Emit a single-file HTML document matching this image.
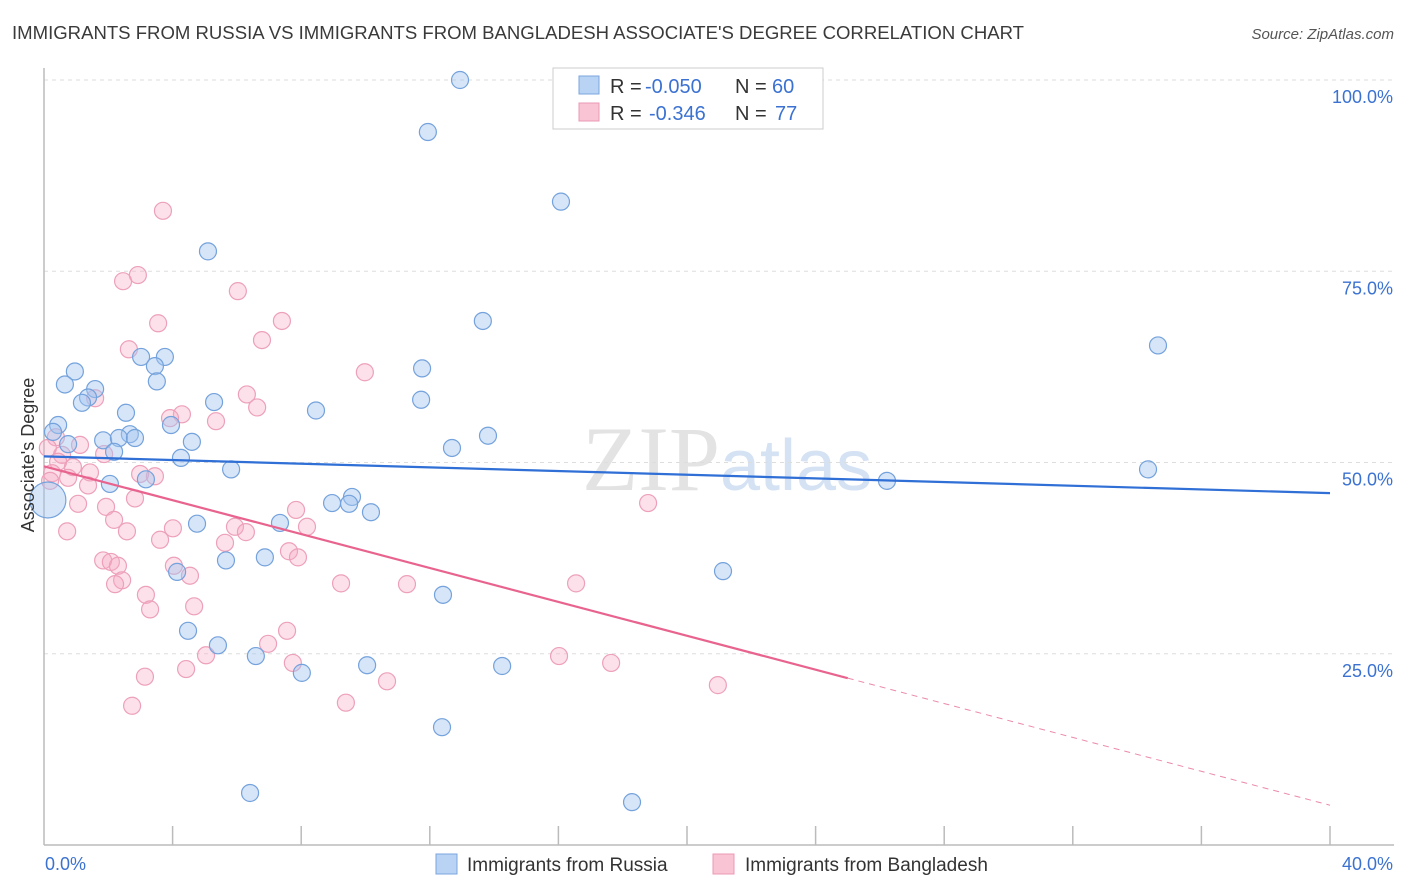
<!DOCTYPE html>
<html><head><meta charset="utf-8"><style>
body{margin:0;background:#fff;font-family:"Liberation Sans",sans-serif;}
svg{display:block}
</style></head><body>
<svg id="chart" width="1406" height="892" xmlns="http://www.w3.org/2000/svg">
<text x="12" y="39" font-size="18" textLength="1012" lengthAdjust="spacingAndGlyphs" fill="#3a3a3a">IMMIGRANTS FROM RUSSIA VS IMMIGRANTS FROM BANGLADESH ASSOCIATE'S DEGREE CORRELATION CHART</text>
<text x="1394" y="39" font-size="15" font-style="italic" fill="#555" text-anchor="end">Source: ZipAtlas.com</text>
<text x="720" y="490" font-size="92" font-family="Liberation Serif,serif" fill="#e3e3e3" text-anchor="end">ZIP</text>
<text x="720" y="490" font-size="72" fill="#d4e2f4">atlas</text>
<g id="grid"></g>
<g id="axes"></g>
<g id="points"></g>
<g id="lines"></g>
<text transform="translate(34,455) rotate(-90)" font-size="18" fill="#333" text-anchor="middle">Associate's Degree</text>
<g>
<rect x="553" y="68" width="270" height="61" fill="#fff" stroke="#ccc"/>
<rect x="579" y="76" width="20" height="18" fill="#b8d3f4" stroke="#7aa6dd"/>
<rect x="579" y="103" width="20" height="18" fill="#f9c4d4" stroke="#eb9ab5"/>
<text x="610" y="93" font-size="20" fill="#333">R =</text>
<text x="645" y="93" font-size="20" fill="#3b72d1">-0.050</text>
<text x="735" y="93" font-size="20" fill="#333">N =</text>
<text x="772" y="93" font-size="20" fill="#3b72d1">60</text>
<text x="610" y="120" font-size="20" fill="#333">R =</text>
<text x="649" y="120" font-size="20" fill="#3b72d1">-0.346</text>
<text x="735" y="120" font-size="20" fill="#333">N =</text>
<text x="775" y="120" font-size="20" fill="#3b72d1">77</text>
</g>
<g>
<rect x="436" y="854" width="21" height="20" fill="#b8d3f4" stroke="#7aa6dd"/>
<text x="467" y="871" font-size="19" fill="#333">Immigrants from Russia</text>
<rect x="713" y="854" width="21" height="20" fill="#f9c4d4" stroke="#eb9ab5"/>
<text x="745" y="871" font-size="19" fill="#333">Immigrants from Bangladesh</text>
</g>
</svg>
<script>
const russiaX=[12.94,11.94,16.08,5.10,13.65,34.65,3.02,3.76,0.96,3.45,11.76,0.65,3.51,1.59,1.37,1.18,5.29,11.73,8.46,2.55,0.44,3.95,0.28,13.81,1.84,2.67,2.33,2.83,4.60,0.75,12.69,2.18,4.26,5.82,34.34,26.22,3.17,2.05,9.58,8.96,9.49,10.17,4.76,7.34,6.87,5.66,21.12,4.14,12.41,4.48,5.41,6.59,10.05,14.25,8.02,12.38,6.41,18.29,0.12];
const russiaY=[100.0,93.2,84.1,77.6,68.5,65.3,63.8,63.8,61.9,62.6,62.3,60.2,60.6,59.6,58.5,57.8,57.9,58.2,56.8,56.5,54.9,54.9,54.0,53.5,52.9,53.7,53.2,53.2,52.7,52.4,51.9,51.4,50.6,49.1,49.1,47.6,47.8,47.2,45.5,44.7,44.6,43.5,42.0,42.1,37.6,37.2,35.8,35.7,32.7,28.0,26.1,24.7,23.5,23.4,22.5,15.4,6.8,5.6,45.1];
const bangX=[3.70,2.92,2.46,6.03,7.40,3.55,6.78,2.64,9.98,6.31,1.59,6.63,4.29,3.92,5.35,1.12,0.37,0.56,0.12,0.44,0.90,1.43,2.99,3.45,0.75,0.25,1.37,0.19,2.83,1.06,1.93,7.84,18.79,2.18,5.94,8.18,4.01,2.58,6.28,3.61,5.63,7.62,7.90,1.84,2.08,2.30,4.04,4.54,2.43,2.21,9.24,11.29,16.55,3.17,4.67,3.30,7.56,6.97,5.04,7.74,16.02,17.64,4.42,3.14,10.67,20.96,2.74,9.39,0.72,1.87];
const bangY=[82.9,74.5,73.7,72.4,68.5,68.2,66.0,64.8,61.8,58.9,58.4,57.2,56.3,55.8,55.4,52.3,53.3,51.0,51.9,50.1,49.4,48.7,48.5,48.2,48.0,48.6,47.0,47.6,45.3,44.6,44.2,43.8,44.7,42.5,41.6,41.6,41.4,41.0,40.9,39.9,39.5,38.4,37.6,37.2,37.0,36.5,36.5,35.2,34.6,34.1,34.2,34.1,34.2,32.7,31.2,30.8,28.0,26.3,24.8,23.8,24.7,23.8,23.0,22.0,21.4,20.9,18.2,18.6,41.0,51.1];
const russiaTrend=[50.8,46.0];
const bangTrend=[49.5,5.2];
const bangSolidEnd=25;
const yTicks=[25,50,75,100];
const xTickCount=10;

const NS="http://www.w3.org/2000/svg";
const X0=44,X1=1330,Y0=845,Y100=80;
const sx=v=>X0+(X1-X0)*v/40;
const sy=v=>Y0-(Y0-Y100)*v/100;
function mk(tag,attrs,parent){const e=document.createElementNS(NS,tag);for(const k in attrs)e.setAttribute(k,attrs[k]);parent.appendChild(e);return e;}
const grid=document.getElementById('grid'),axes=document.getElementById('axes'),pts=document.getElementById('points'),lines=document.getElementById('lines');
yTicks.forEach(t=>{
  const l=mk('line',{x1:X0,x2:1394,y1:sy(t),y2:sy(t),stroke:'#ddd','stroke-dasharray':'4 4'},grid);
  
  
  const tx=mk('text',{x:1393,y:sy(t)+23,'font-size':18,fill:'#3b72d1','text-anchor':'end'},axes);
  tx.textContent=t.toFixed(1)+'%';
  
  
});
let a=mk('line',{x1:X0,x2:X0,y1:68,y2:Y0,stroke:'#bbb','stroke-width':1.5},axes);


a=mk('line',{x1:X0,x2:1394,y1:Y0,y2:Y0,stroke:'#bbb','stroke-width':1.5},axes);


for(let i=1;i<=xTickCount;i++){
  const t=mk('line',{x1:sx(i*4),x2:sx(i*4),y1:826,y2:Y0,stroke:'#bbb','stroke-width':1.5},axes);
  
  
}
let xl=mk('text',{x:45,y:870,'font-size':18,fill:'#3b72d1'},axes);xl.textContent='0.0%';


xl=mk('text',{x:1393,y:870,'font-size':18,fill:'#3b72d1','text-anchor':'end'},axes);xl.textContent='40.0%';



bangX.forEach((v,i)=>{
  const c=mk('circle',{cx:sx(v),cy:sy(bangY[i]),r:8.5,fill:'rgba(245,170,195,0.35)',stroke:'#eda0ba','stroke-width':1.2},pts);
  
  
});
russiaX.forEach((v,i)=>{
  const big=i===russiaX.length-1;
  const c=mk('circle',{cx:sx(v),cy:sy(russiaY[i]),r:big?18:8.5,fill:'rgba(165,198,240,0.45)',stroke:'#74a2dc','stroke-width':1.2},pts);
  
  
});
let l=mk('line',{x1:sx(0),y1:sy(russiaTrend[0]),x2:sx(40),y2:sy(russiaTrend[1]),stroke:'#2f6fd6','stroke-width':2.2},lines);


const by=x=>bangTrend[0]+(bangTrend[1]-bangTrend[0])*x/40;
l=mk('line',{x1:sx(0),y1:sy(by(0)),x2:sx(bangSolidEnd),y2:sy(by(bangSolidEnd)),stroke:'#e8648f','stroke-width':2.2},lines);


l=mk('line',{x1:sx(bangSolidEnd),y1:sy(by(bangSolidEnd)),x2:sx(40),y2:sy(by(40)),stroke:'#eb8aaa','stroke-width':1,'stroke-dasharray':'6 5'},lines);


</script>
</body></html>
